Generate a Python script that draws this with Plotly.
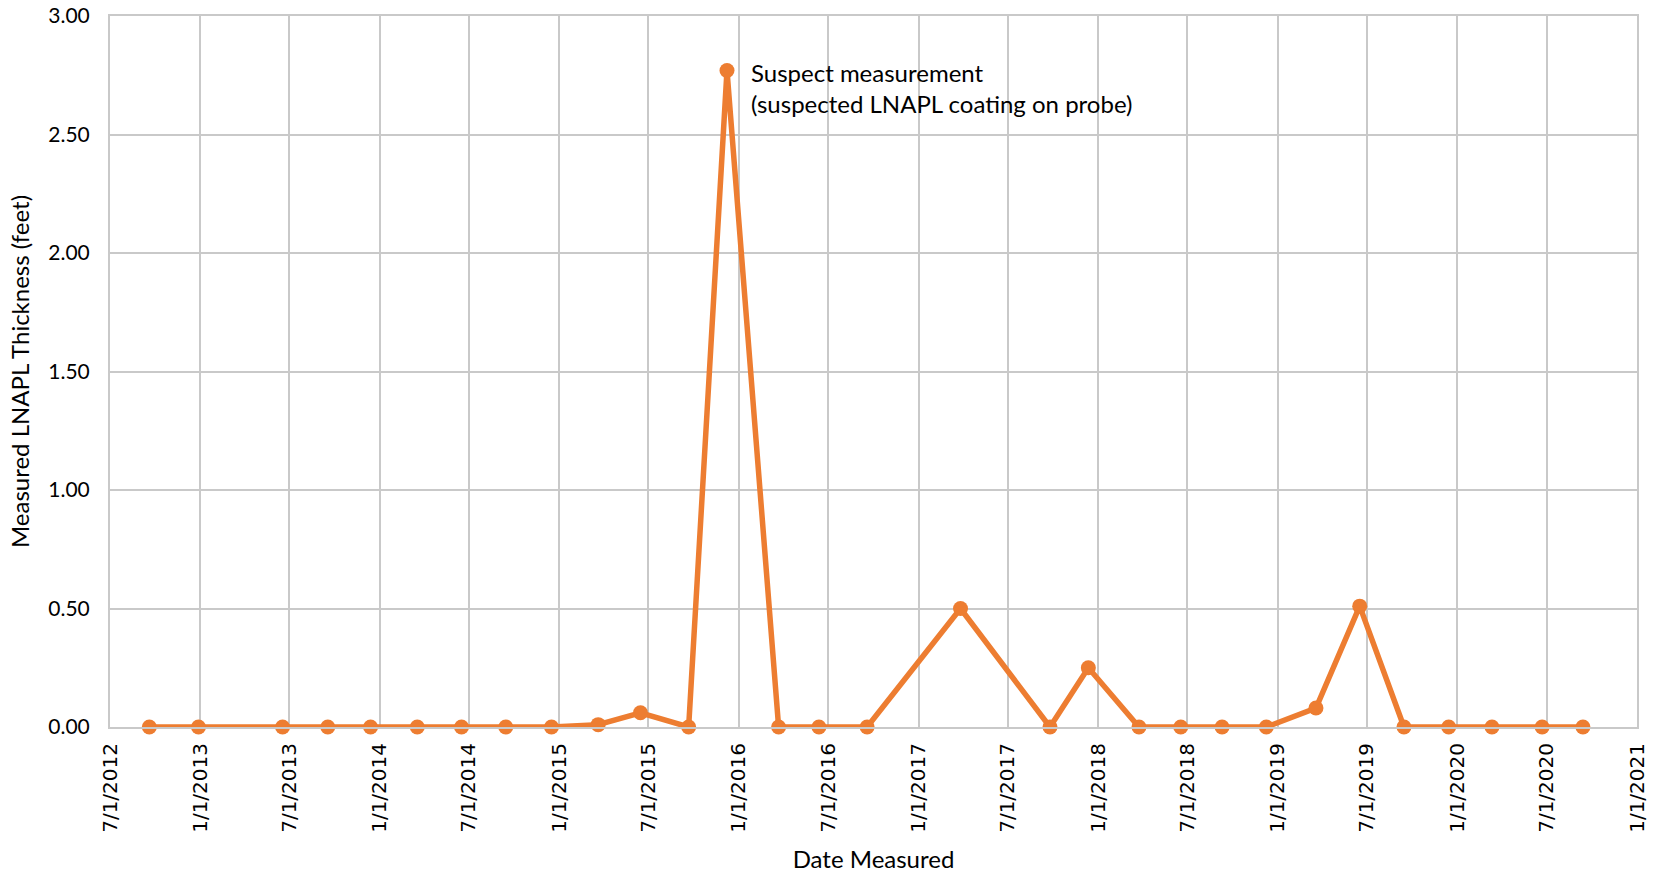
import plotly.graph_objects as go

# Measurement dates and measured LNAPL thickness (feet)
dates = [
    "2012-09-19", "2012-12-28", "2013-06-17", "2013-09-17", "2013-12-13",
    "2014-03-18", "2014-06-16", "2014-09-14", "2014-12-16", "2015-03-21",
    "2015-06-15", "2015-09-21", "2015-12-08", "2016-03-22", "2016-06-12",
    "2016-09-18", "2017-03-27", "2017-09-25", "2017-12-12", "2018-03-25",
    "2018-06-18", "2018-09-10", "2018-12-09", "2019-03-20", "2019-06-17",
    "2019-09-15", "2019-12-15", "2020-03-12", "2020-06-22", "2020-09-13",
]
thickness = [
    0.00, 0.00, 0.00, 0.00, 0.00,
    0.00, 0.00, 0.00, 0.00, 0.01,
    0.06, 0.00, 2.77, 0.00, 0.00,
    0.00, 0.50, 0.00, 0.25, 0.00,
    0.00, 0.00, 0.00, 0.08, 0.51,
    0.00, 0.00, 0.00, 0.00, 0.00,
]

suspect_index = 12
suspect_note = "Suspect measurement<br>(suspected LNAPL coating on probe)"

x_title = "Date Measured"
y_title = "Measured LNAPL Thickness (feet)"

ORANGE = "#ED7D31"
GRID = "#C9C9C9"
TEXT = "#000000"

fig = go.Figure()
fig.add_trace(go.Scatter(
    x=dates,
    y=thickness,
    mode="lines+markers",
    line=dict(color=ORANGE, width=5.5),
    marker=dict(color=ORANGE, size=15),
    cliponaxis=False,
    showlegend=False,
    hoverinfo="x+y",
))

fig.add_annotation(
    x=dates[suspect_index], y=thickness[suspect_index],
    xref="x", yref="y",
    text=suspect_note,
    showarrow=False,
    xanchor="left", yanchor="top", align="left",
    xshift=22, yshift=15,
    font=dict(family="Lato", size=24, color=TEXT),
)

fig.update_layout(
    width=1655, height=874,
    margin=dict(l=110, r=18, t=16, b=147, autoexpand=False),
    paper_bgcolor="white",
    plot_bgcolor="white",
    font=dict(family="Lato", color=TEXT),
)

fig.update_xaxes(
    type="date",
    range=["2012-07-01", "2021-01-01"],
    tick0="2012-07-01",
    dtick="M6",
    tickformat="%-m/%-d/%Y",
    tickangle=-90,
    tickfont=dict(family="DejaVu Sans", size=20, color=TEXT),
    ticklabelstandoff=6,
    showgrid=True, gridcolor=GRID, gridwidth=2,
    showline=True, linecolor=GRID, linewidth=2, mirror=True,
    zeroline=False,
    automargin=False,
    title=dict(text=x_title, font=dict(family="Lato", size=24, color=TEXT), standoff=19),
)

fig.update_yaxes(
    range=[0, 3],
    tick0=0,
    dtick=0.5,
    tickformat=".2f",
    tickfont=dict(family="Lato", size=21, color=TEXT),
    ticklabelstandoff=14,
    showgrid=True, gridcolor=GRID, gridwidth=2,
    showline=True, linecolor=GRID, linewidth=2, mirror=True,
    zeroline=False,
    automargin=False,
    title=dict(text=y_title, font=dict(family="Lato", size=24, color=TEXT), standoff=12),
)

fig.write_html("out.html")
